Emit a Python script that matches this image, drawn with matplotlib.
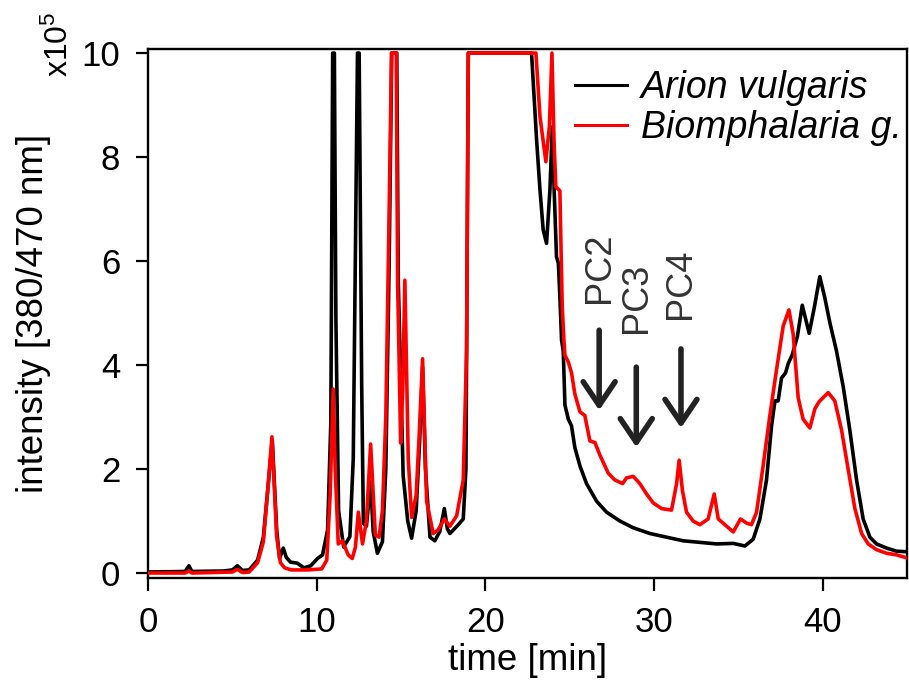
import matplotlib
matplotlib.use("Agg")
import matplotlib.pyplot as plt

plt.rcParams['font.family'] = ['Liberation Sans', 'DejaVu Sans']
plt.rcParams['mathtext.fontset'] = 'custom'
plt.rcParams['mathtext.rm'] = 'Liberation Sans'
plt.rcParams['mathtext.it'] = 'Liberation Sans:italic'

# ---- data (time in min, intensity in 1e5 units) ----
arion_t = [0.0, 2.2, 2.43, 2.6, 4.5, 5.0, 5.3, 5.6, 6.0, 6.5, 6.84, 7.1, 7.37, 7.63, 7.8, 8.02, 8.2,
           8.45, 8.85, 9.25, 9.65, 10.05, 10.35, 10.65, 10.84, 10.95, 11.05, 11.14, 11.3, 11.6, 11.97,
           12.17, 12.42, 12.52, 12.67, 12.77, 12.95, 13.2, 13.35, 13.6, 13.9, 14.1, 14.3, 14.45, 14.75,
           14.84, 15.13, 15.4, 15.63, 15.9, 16.1, 16.28, 16.45, 16.72, 17.01, 17.3, 17.57, 17.75, 17.9,
           18.4, 18.69, 18.85, 18.99, 22.74, 23.04, 23.24, 23.43, 23.63, 23.83, 23.97, 24.08, 24.22,
           24.33, 24.42, 24.52, 24.62, 24.72, 24.92, 25.11, 25.31, 25.61, 26.0, 26.6, 27.19, 27.98,
           28.77, 29.76, 30.74, 31.73, 32.72, 33.71, 34.7, 35.39, 35.88, 36.28, 36.67, 36.97, 37.17,
           37.36, 37.56, 37.8, 37.96, 38.2, 38.5, 38.79, 39.2, 39.5, 39.83, 40.13, 40.43, 40.82, 41.22,
           41.61, 42.01, 42.4, 42.8, 43.19, 43.79, 44.38, 45.0]
arion_i = [0.02, 0.03, 0.14, 0.03, 0.04, 0.06, 0.14, 0.05, 0.06, 0.25, 0.69, 1.6, 2.55, 0.83, 0.28, 0.48, 0.3,
           0.21, 0.19, 0.10, 0.14, 0.28, 0.35, 0.83, 2.9, 10, 10, 4.9, 1.2, 0.5, 0.7,
           2.2, 10, 10, 3.6, 0.96, 0.9, 1.75, 0.8, 0.38, 0.6, 2.0, 6.0, 10, 10,
           5.6, 1.87, 1.0, 0.67, 1.2, 2.5, 3.95, 2.0, 0.69, 0.62, 0.8, 1.24, 0.85, 0.76,
           0.93, 1.04, 2.0, 10, 10, 8.33, 7.37, 6.6, 6.34, 7.37, 8.58, 7.37, 6.08,
           5.96, 5.31, 4.48, 4.27, 3.23, 2.96, 2.83, 2.41, 2.06, 1.72, 1.38, 1.17, 1.0,
           0.87, 0.76, 0.69, 0.62, 0.59, 0.56, 0.57, 0.52, 0.65, 1.04, 1.79, 2.83, 3.31,
           3.31, 3.75, 3.85, 4.03, 4.2, 4.55, 5.15, 4.61, 5.1, 5.7, 5.29, 4.81, 4.27, 3.58,
           2.75, 1.79, 1.04, 0.69, 0.56, 0.48, 0.42, 0.41]

biom_t = [0.0, 2.2, 2.43, 2.6, 5.0, 5.3, 5.6, 6.0, 6.5, 6.84, 7.1, 7.35, 7.63, 7.85, 8.1, 8.5, 9.5, 10.3,
          10.6, 10.8, 10.98, 11.1, 11.28, 11.52, 11.87, 12.11, 12.3, 12.47, 12.72, 12.95, 13.2, 13.48,
          13.7, 13.9, 14.1, 14.3, 14.44, 14.72, 14.8, 14.98, 15.1, 15.23, 15.43, 15.63, 15.9, 16.1,
          16.28, 16.52, 16.91, 17.2, 17.57, 17.9, 18.3, 18.69, 18.89, 18.99, 23.0, 23.24, 23.59, 23.8,
          23.95, 24.07, 24.18, 24.27, 24.42, 24.46, 24.56, 24.66, 24.72, 24.92, 25.11, 25.31, 25.61,
          25.9, 26.2, 26.5, 26.79, 27.29, 27.68, 28.14, 28.37, 28.77, 29.16, 29.56, 29.95, 30.45,
          31.04, 31.34, 31.49, 31.69, 31.93, 32.32, 32.72, 33.21, 33.57, 33.81, 34.2, 34.7, 35.13,
          35.49, 35.78, 36.08, 36.47, 36.87, 37.27, 37.66, 38.0, 38.25, 38.55, 38.84, 39.24, 39.54,
          39.8, 40.33, 40.72, 41.12, 41.51, 41.91, 42.31, 42.7, 43.19, 43.79, 44.38, 45.0]
biom_i = [0.0, 0.0, 0.04, 0.0, 0.02, 0.07, 0.01, 0.02, 0.2, 0.6, 1.6, 2.62, 0.7, 0.2, 0.1, 0.06, 0.06, 0.08,
          0.25, 1.5, 3.54, 2.0, 0.56, 0.62, 0.35, 0.28, 0.5, 1.17, 0.56, 1.0, 2.48, 0.73,
          0.69, 1.2, 3.0, 7.0, 10, 10, 5.6, 2.5, 3.5, 5.63, 2.2, 1.07, 1.5, 2.8,
          4.12, 1.38, 0.76, 0.83, 1.04, 0.9, 1.1, 1.79, 4.27, 10, 10, 8.78, 7.91, 8.6,
          10, 8.33, 7.43, 7.4, 7.35, 6.7, 5.12, 4.48, 4.19, 4.06, 3.85, 3.44, 3.1,
          3.03, 2.54, 2.51, 2.27, 1.92, 1.79, 1.72, 1.83, 1.86, 1.72, 1.52, 1.35, 1.24,
          1.21, 1.72, 2.17, 1.58, 1.17, 1.0, 0.93, 1.04, 1.52, 1.04, 0.93, 0.79, 1.04,
          0.96, 0.93, 1.17, 2.06, 3.03, 3.92, 4.75, 5.06, 4.6, 3.37, 2.96, 2.79, 3.16,
          3.3, 3.47, 3.31, 2.75, 2.0, 1.24, 0.76, 0.56, 0.45, 0.38, 0.35, 0.29]

series_labels = ["Arion vulgaris", "Biomphalaria g."]
pc_labels = ["PC2", "PC3", "PC4"]
pc_x = [26.75, 28.95, 31.6]          # arrow positions (min)
pc_top = [4.67, 3.96, 4.31]          # arrow tail
pc_tip = [3.13, 2.42, 2.79]          # arrow tip
pc_text_y = [5.87, 5.29, 5.56]

x_ticks = [0, 10, 20, 30, 40]
y_ticks = [0, 2, 4, 6, 8, 10]

FS = 25
fig = plt.figure(figsize=(9.09, 6.81), dpi=100)
ax = fig.add_axes([0.1628, 0.1512, 0.835, 0.777])

ax.plot(arion_t, arion_i, color='black', lw=2.6, label=series_labels[0], zorder=3,
        solid_joinstyle='round')
ax.plot(biom_t, biom_i, color='#ff0000', lw=2.6, label=series_labels[1], zorder=4,
        solid_joinstyle='round')

ax.set_xlim(0, 45)
ax.set_ylim(-0.096, 10.08)
ax.set_xticks(x_ticks)
ax.set_yticks(y_ticks)
ax.tick_params(axis='both', direction='out', length=9, width=1.6, labelsize=FS, pad=11,
               top=False, right=False)
for s in ax.spines.values():
    s.set_linewidth(1.7)

ax.set_xlabel("time [min]", fontsize=26.5, labelpad=3)
ax.set_ylabel("intensity [380/470 nm]", fontsize=26.5, labelpad=22)

ax.text(-0.117, 1.0085, r"x10$^{5}$", transform=ax.transAxes, rotation=90,
        ha='center', va='center', fontsize=23)

for lab, x, t0, t1, ty in zip(pc_labels, pc_x, pc_top, pc_tip, pc_text_y):
    ax.annotate('', xy=(x, t1), xytext=(x, t0),
                arrowprops=dict(arrowstyle='->,head_length=1.7,head_width=1.15',
                                lw=4.0, color='#222222', shrinkA=0, shrinkB=0,
                                mutation_scale=10))
    ax.text(x, ty, lab, rotation=90, ha='center', va='center', fontsize=26, color='#333333')

leg = ax.legend(loc='upper left', bbox_to_anchor=((575 - 148) / 759, (578 - 70) / 529),
                frameon=False, handlelength=1.4, handletextpad=0.35,
                labelspacing=0.12, borderpad=0, borderaxespad=0,
                prop={'style': 'italic', 'size': 27})
for h in leg.get_lines():
    h.set_linewidth(2.2)

fig.savefig("out.png", dpi=100)
